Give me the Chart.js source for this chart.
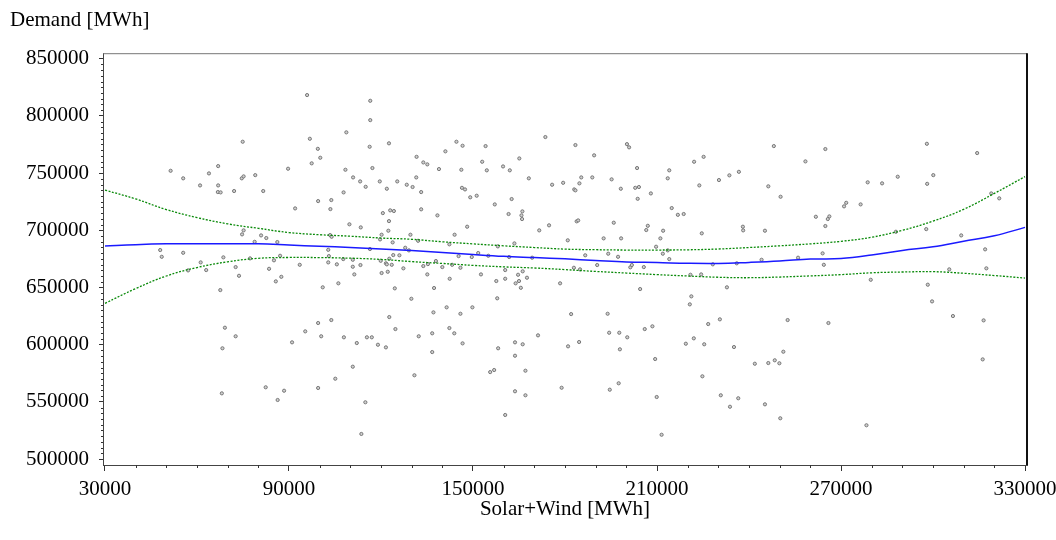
<!DOCTYPE html>
<html>
<head>
<meta charset="utf-8">
<script src="https://cdn.jsdelivr.net/npm/chart.js@4.4.1/dist/chart.umd.min.js"></script>
<style>
  html, body { margin: 0; padding: 0; background: #fff; }
  #chart { display: block; }
</style>
</head>
<body>
<canvas id="chart" width="1056" height="540"></canvas>
<script>
// axis ticks
const xTicks = [30000, 90000, 150000, 210000, 270000, 330000];
const yTicks = [500000, 550000, 600000, 650000, 700000, 750000, 800000, 850000];

const solarWind = [
  74900, 99400, 97400, 100200, 51400, 55500, 66900, 63900, 61000, 66900,
  66800, 67700, 72100, 74600, 75200, 79000, 81600, 89700, 92000, 99500,
  103800, 103500, 75200, 74700, 80900, 82600, 78800, 86200, 103400, 103900,
  48000, 48500, 55500, 68600, 61200, 57100, 63000, 72600, 77300, 87100,
  85100, 83500, 93500, 102800, 103000, 102800, 105600, 73700, 87500, 85700,
  67600, 101000, 106100, 69100, 99500, 103800, 95900, 116500, 116500, 108700,
  96800, 173600, 116300, 122600, 144600, 146600, 154100, 141000, 131600, 133800,
  135100, 153000, 165100, 159800, 162000, 154500, 146200, 138900, 117200, 108400,
  110900, 113200, 115000, 119600, 121900, 125300, 128400, 130300, 131500, 133100,
  146400, 147400, 149100, 151200, 162600, 168200, 175800, 179400, 107800, 157100,
  133100, 123000, 124200, 120600, 138400, 161600, 166100, 165800, 166000, 122600,
  109700, 113400, 122400, 148100, 171600, 174800, 120200, 129600, 119700, 123800,
  132100, 144000, 142300, 158100, 163500, 180900, 127900, 116400, 129100, 151700,
  145300, 149600, 155000, 161800, 169300, 107700, 110800, 110800, 113300, 111300,
  119900, 121600, 121900, 122700, 124000, 126000, 123500, 127300, 133800, 135300,
  137900, 140000, 143200, 145900, 120200, 122200, 135100, 142400, 152600, 160500,
  166200, 157600, 160500, 163900, 165000, 164700, 167600, 165600, 178400, 124500,
  137300, 129900, 157900, 141400, 149800, 137100, 145900, 182000, 122700, 124700,
  142300, 72600, 68300, 68100, 82400, 86300, 88400, 91000, 95300, 100500,
  99500, 105100, 107900, 110800, 112100, 115400, 117000, 119000, 121600, 114900,
  113600, 130900, 132300, 136700, 136700, 143900, 146600, 155600, 156900, 158200,
  160500, 163700, 163700, 166200, 167100, 163700, 167100, 171200, 178900, 181000,
  184600, 183400, 189500, 200200, 200900, 185300, 188900, 184700, 183000, 183400,
  195200, 198200, 203500, 202900, 204100, 208000, 203700, 214000, 213500, 222100,
  225200, 223800, 230200, 233600, 236700, 248100, 246300, 250300, 183800, 184300,
  195900, 214800, 216800, 218700, 207000, 206500, 212000, 192600, 198300, 211100,
  209700, 224600, 238000, 238100, 245200, 213500, 211900, 214000, 186600, 194100,
  197300, 190500, 182900, 184900, 201300, 201800, 205700, 220900, 224400, 228200,
  236000, 244100, 256000, 204500, 232800, 221200, 220700, 193900, 226700, 230500,
  252600, 206000, 208500, 194400, 197700, 200300, 197900, 209400, 219400, 222000,
  225400, 235100, 224800, 197500, 194600, 209900, 211500, 230800, 236500, 233800,
  245200, 250200, 241900, 246300, 248400, 249900, 251200, 278300, 316200, 264900,
  258400, 298000, 314400, 278700, 283400, 288500, 300100, 298100, 271700, 271000,
  276400, 261800, 266200, 265700, 264900, 319000, 321600, 287900, 297800, 309200,
  264000, 264400, 317000, 317400, 305300, 279700, 298300, 299700, 306500, 316500,
  265900
];
const demand = [
  777400, 771200, 758500, 763400, 752000, 745400, 756100, 749700, 739200, 739200,
  733400, 733100, 734300, 745400, 747100, 748200, 734300, 753800, 719100, 725500,
  726400, 718500, 699900, 696400, 695500, 693200, 689900, 689700, 695800, 694300,
  682700, 676800, 680300, 676300, 671900, 664900, 665200, 667800, 675400, 677700,
  673700, 666300, 669800, 682900, 677400, 671900, 670200, 660200, 659300, 655300,
  647700, 650100, 653600, 614800, 618900, 621500, 818200, 813200, 796300, 785600,
  780000, 781500, 773000, 776000, 777400, 773900, 773600, 769000, 764200, 759300,
  757600, 759900, 762800, 755800, 752400, 752400, 752900, 753500, 754400, 752900,
  746200, 742700, 738000, 742700, 736300, 742700, 739800, 737800, 746200, 733400,
  737100, 735700, 728800, 730200, 727300, 745400, 739800, 741500, 733100, 722600,
  718300, 717400, 716800, 715000, 713000, 714200, 716500, 713000, 709800, 708000,
  705200, 702500, 699600, 703100, 699900, 704300, 696100, 696100, 692000, 689400,
  690800, 696100, 687700, 685900, 688500, 691200, 684700, 683600, 682400, 680100,
  677400, 676600, 677700, 676600, 676000, 674800, 674200, 668100, 669600, 661400,
  673300, 671100, 670200, 675100, 678300, 678100, 669800, 666700, 668700, 670400,
  673100, 667800, 669800, 667200, 662600, 663700, 661400, 657600, 661400, 665200,
  664100, 655600, 657600, 653600, 655600, 661100, 658500, 649700, 653600, 649200,
  649500, 640100, 640500, 632600, 632600, 628200, 627000, 626700, 624100, 613600,
  614500, 607300, 596800, 557400, 562700, 551600, 559700, 602000, 611600, 607300,
  562100, 570200, 606400, 580700, 601400, 606400, 606400, 599900, 597600, 549600,
  521900, 573200, 607300, 609900, 593500, 609900, 601100, 576000, 577800, 596800,
  538500, 602000, 590300, 600300, 577200, 559200, 555700, 608100, 562300, 598500,
  602300, 774500, 765500, 775300, 772500, 746200, 746200, 741000, 735700, 734900,
  744500, 736300, 754400, 737100, 737800, 732200, 727500, 752400, 745400, 759900,
  764200, 739200, 743900, 748000, 751100, 773600, 738400, 729300, 707800, 708600,
  706600, 719400, 713500, 714200, 703900, 700200, 699600, 692900, 692900, 692900,
  685600, 697300, 703100, 699900, 699600, 682400, 679500, 674800, 678100, 679500,
  676800, 669600, 667200, 665800, 667600, 669600, 667800, 661100, 661400, 670200,
  671100, 674200, 676000, 648600, 650100, 642200, 635200, 627000, 618000, 622100,
  621500, 613600, 616000, 610400, 610400, 606400, 595900, 587400, 600800, 605500,
  600300, 597900, 572300, 566200, 560600, 554200, 521200, 555700, 553100, 545700,
  547800, 535600, 583300, 583900, 586300, 583700, 593800, 529500, 587100, 771000,
  760200, 775600, 767500, 741900, 741000, 746800, 748200, 740600, 724000, 720900,
  722600, 711800, 712100, 709800, 703700, 732200, 727900, 698700, 701000, 695500,
  679800, 669800, 683300, 666700, 665800, 656700, 652400, 637800, 625000, 621200,
  618900
];

// fitted curve and confidence band
const curveX = [
  30000, 40000, 50000, 60000, 70000, 80000, 90000, 100000, 110000, 120000,
  130000, 140000, 150000, 160000, 170000, 180000, 190000, 200000, 210000, 220000,
  230000, 240000, 250000, 260000, 270000, 280000, 290000, 300000, 310000, 320000,
  330000
];
const fitY = [
  686200, 687400, 688100, 688200, 688200, 688100, 687100, 686000, 685000, 683600,
  682300, 680600, 678800, 677200, 676100, 675000, 673600, 672300, 671800, 671100,
  671000, 671900, 673100, 674800, 675300, 678300, 682400, 685500, 690400, 695200,
  702500
];
const upperY = [
  735100, 727400, 718100, 711100, 705600, 701700, 698000, 696100, 694800, 693200,
  692100, 689900, 688100, 686400, 684900, 683500, 683000, 682700, 682700, 682900,
  683600, 684900, 686400, 688100, 690300, 693900, 699900, 708000, 718300, 732200,
  746900
];
const lowerY = [
  636100, 649000, 660000, 667400, 672400, 675500, 676200, 676100, 675600, 674500,
  672600, 671000, 669300, 668000, 667000, 665600, 664000, 662600, 661200, 660000,
  658900, 658500, 659100, 660100, 661200, 662800, 663500, 663800, 662400, 660400,
  658200
];

const FONT = { family: "'Liberation Serif', 'Times New Roman', serif", size: 21, weight: 'normal' };

function pairs(xs, ys) {
  return xs.map((x, i) => ({ x: x, y: ys[i] }));
}

// short minor ticks plus the top/right frame
const frame = {
  id: 'frame',
  afterDraw(chart) {
    const { ctx, chartArea: a, scales: { x, y } } = chart;
    ctx.save();
    ctx.strokeStyle = '#333';
    ctx.lineWidth = 1;
    ctx.beginPath();
    for (let v = 40000; v < 330000; v += 10000) {
      if ((v - 30000) % 60000 === 0) continue;
      const px = Math.round(x.getPixelForValue(v)) + 0.5;
      ctx.moveTo(px, a.bottom);
      ctx.lineTo(px, a.bottom + 3);
    }
    for (let v = 500000; v <= 850000; v += 5000) {
      if (v % 50000 === 0) continue;
      const py = Math.round(y.getPixelForValue(v)) + 0.5;
      ctx.moveTo(a.left - 2, py);
      ctx.lineTo(a.left, py);
    }
    ctx.stroke();

    ctx.strokeStyle = '#777';
    ctx.beginPath();
    ctx.moveTo(a.left, a.top + 0.5);
    ctx.lineTo(a.right, a.top + 0.5);
    ctx.stroke();

    ctx.strokeStyle = '#111';
    ctx.lineWidth = 2;
    ctx.beginPath();
    ctx.moveTo(a.right, a.top);
    ctx.lineTo(a.right, a.bottom);
    ctx.stroke();
    ctx.restore();
  }
};

new Chart(document.getElementById('chart'), {
  type: 'scatter',
  data: {
    datasets: [
      {
        label: 'Fit',
        data: pairs(curveX, fitY),
        showLine: true,
        borderColor: '#1a1aff',
        borderWidth: 1.5,
        pointRadius: 0,
        tension: 0.4,
        order: 1
      },
      {
        label: 'Upper',
        data: pairs(curveX, upperY),
        showLine: true,
        borderColor: '#0a8a0a',
        borderWidth: 1.3,
        borderDash: [2, 1.5],
        pointRadius: 0,
        tension: 0.4,
        order: 2
      },
      {
        label: 'Lower',
        data: pairs(curveX, lowerY),
        showLine: true,
        borderColor: '#0a8a0a',
        borderWidth: 1.3,
        borderDash: [2, 1.5],
        pointRadius: 0,
        tension: 0.4,
        order: 3
      },
      {
        label: 'Observed',
        data: pairs(solarWind, demand),
        pointRadius: 1.6,
        pointBorderWidth: 1,
        pointBorderColor: '#777',
        pointBackgroundColor: '#cfcfcf',
        order: 4
      }
    ]
  },
  options: {
    responsive: false,
    animation: false,
    devicePixelRatio: 1,
    layout: { padding: { left: 10, right: 29, top: 0, bottom: 0 } },
    plugins: {
      legend: { display: false },
      tooltip: { enabled: false },
      title: {
        display: true,
        text: 'Demand [MWh]',
        align: 'start',
        color: '#000',
        font: FONT,
        padding: { top: 8, bottom: 20 }
      }
    },
    scales: {
      x: {
        type: 'linear',
        min: 29348,
        max: 330652,
        afterBuildTicks: s => { s.ticks = xTicks.map(v => ({ value: v })); },
        afterFit: s => { s.height = 75; s.paddingLeft = 0; s.paddingRight = 0; },
        ticks: {
          autoSkip: false,
          maxRotation: 0,
          color: '#000',
          font: FONT,
          padding: 6,
          callback: v => String(v)
        },
        grid: { drawOnChartArea: false, tickLength: 6, color: '#333' },
        border: { color: '#444', width: 1 },
        title: {
          display: true,
          text: 'Solar+Wind [MWh]',
          color: '#000',
          font: FONT,
          padding: { top: 4, bottom: 18 }
        }
      },
      y: {
        type: 'linear',
        min: 494755,
        max: 854808,
        afterBuildTicks: s => { s.ticks = yTicks.map(v => ({ value: v })); },
        afterFit: s => { s.width = 93; s.paddingTop = 0; s.paddingBottom = 0; },
        ticks: {
          color: '#000',
          font: FONT,
          padding: 10,
          callback: v => String(v)
        },
        grid: { drawOnChartArea: false, tickLength: 4, color: '#333' },
        border: { color: '#444', width: 1 }
      }
    }
  },
  plugins: [frame]
});
</script>
</body>
</html>
